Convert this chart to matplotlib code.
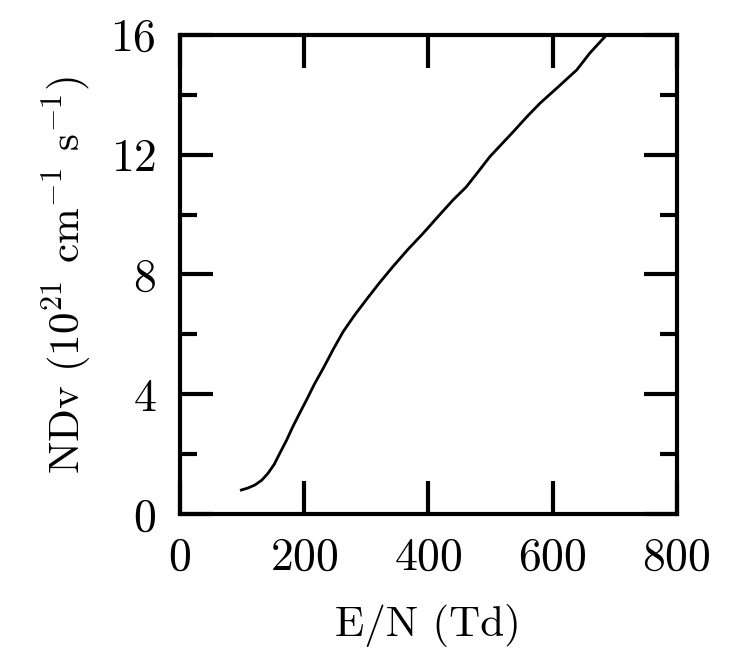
import numpy as np
import matplotlib.pyplot as plt
from matplotlib.ticker import MultipleLocator

plt.rcParams['font.family'] = 'cmr10'
plt.rcParams['mathtext.fontset'] = 'cm'
plt.rcParams['axes.formatter.use_mathtext'] = True

# E/N (Td) vs NDv (1e21 cm^-1 s^-1)
en = [99, 110, 121, 132, 142, 152, 161, 172, 182, 193, 204, 217, 231, 247,
      263, 281, 300, 321, 343, 367, 392, 416, 440, 461, 480, 499, 518, 537,
      558, 580, 610, 639, 660, 687]
ndv = [0.80, 0.87, 0.97, 1.13, 1.36, 1.66, 2.03, 2.47, 2.92, 3.37, 3.81,
       4.35, 4.87, 5.50, 6.09, 6.63, 7.15, 7.71, 8.26, 8.83, 9.38, 9.94,
       10.49, 10.92, 11.42, 11.93, 12.35, 12.77, 13.25, 13.72, 14.28, 14.83,
       15.39, 16.0]

fig = plt.figure(figsize=(7.34, 6.71), dpi=100)
ax = fig.add_axes([0.245, 0.234, 0.677, 0.714])

ax.plot(en, ndv, color="black", lw=2)

ax.set_xlim(0, 800)
ax.set_ylim(0, 16)
ax.xaxis.set_major_locator(MultipleLocator(200))
ax.yaxis.set_major_locator(MultipleLocator(4))
ax.yaxis.set_minor_locator(MultipleLocator(2))

ax.tick_params(which="both", direction="in", top=True, right=True,
               width=3, labelsize=33)
ax.tick_params(axis="x", pad=17)
ax.tick_params(axis="y", pad=17)
ax.tick_params(which="major", length=24)
ax.tick_params(which="minor", length=12)
for s in ax.spines.values():
	s.set_linewidth(3)

ax.set_xlabel("E/N (Td)", fontsize=31, labelpad=18)
ax.set_ylabel(r"NDv (10$^{21}$ cm$^{-1}$ s$^{-1}$)", fontsize=31, labelpad=12)

fig.savefig("out.png", dpi=100)
